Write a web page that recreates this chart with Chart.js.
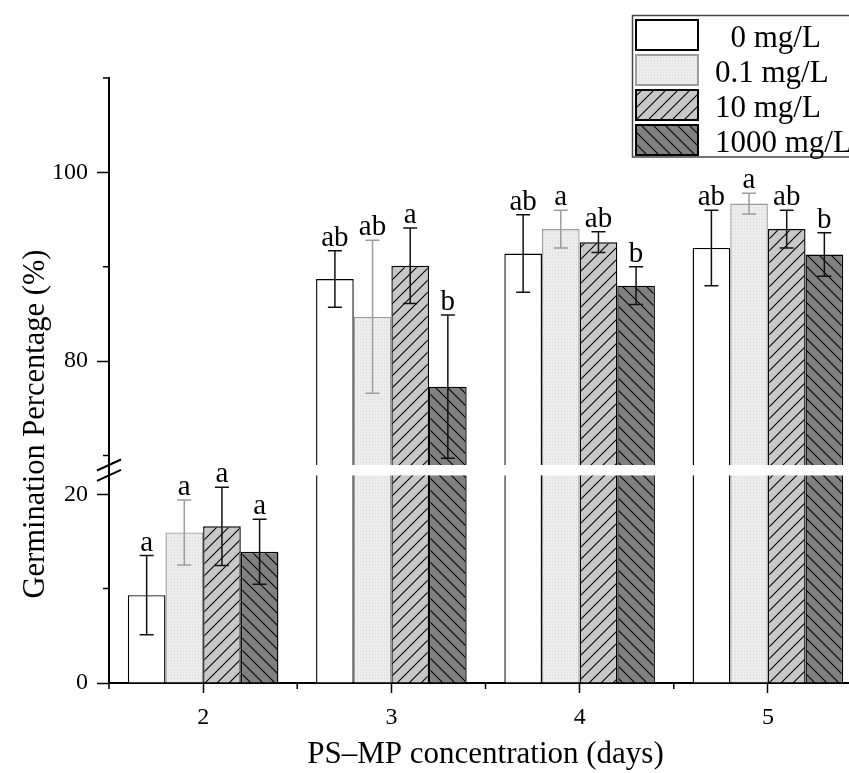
<!DOCTYPE html>
<html lang="en">
<head>
<meta charset="UTF-8">
<title>Germination Percentage</title>
<script src="https://cdn.jsdelivr.net/npm/chart.js@4"></script>
<style>
    html, body { margin: 0; padding: 0; background: #fff; overflow: hidden; }
    #wrap { width: 862px; height: 773px; }
    canvas { display: block; }
</style>
</head>
<body>
<div id="wrap"><canvas id="germChart" width="862" height="773"></canvas></div>
<script>
    const days = ['2', '3', '4', '5'];
    const doseLabels = ['0 mg/L', '0.1 mg/L', '10 mg/L', '1000 mg/L'];

    // mean germination (%) per day for each PS-MP dose
    const germ0 = [9.3, 88.7, 91.4, 92.0];
    const germ01 = [15.95, 84.7, 94.0, 96.7];
    const germ10 = [16.6, 90.1, 92.6, 94.0];
    const germ1000 = [13.9, 77.3, 88.0, 91.3];

    // standard deviations
    const sd0 = [4.2, 3.0, 4.1, 4.0];
    const sd01 = [3.45, 8.1, 2.0, 1.1];
    const sd10 = [4.15, 4.0, 1.1, 2.0];
    const sd1000 = [3.45, 7.6, 2.0, 2.3];

    // significance letters
    const sig0 = ['a', 'ab', 'ab', 'ab'];
    const sig01 = ['a', 'ab', 'a', 'a'];
    const sig10 = ['a', 'a', 'ab', 'ab'];
    const sig1000 = ['a', 'b', 'b', 'b'];

    // broken y axis: two segments
    const lowRange = [0, 22];
    const highRange = [69, 110];
    const lowTicks = [0, 20];
    const lowMinor = [10];
    const highTicks = [80, 100];
    const highMinor = [70, 90, 110];

    const means = [germ0, germ01, germ10, germ1000];
    const sds = [sd0, sd01, sd10, sd1000];
    const sigs = [sig0, sig01, sig10, sig1000];

    const serif = "'Liberation Serif', 'Times New Roman', serif";
    Chart.defaults.font.family = serif;
    Chart.defaults.color = '#000';

    function hatch(bg, dir) {
        const s = 12;
        const c = document.createElement('canvas');
        c.width = s; c.height = s;
        const g = c.getContext('2d');
        g.fillStyle = bg;
        g.fillRect(0, 0, s, s);
        g.strokeStyle = '#000';
        g.lineWidth = 1.1;
        g.beginPath();
        if (dir === '/') {
            g.moveTo(0, s); g.lineTo(s, 0);
            g.moveTo(-s, s); g.lineTo(s, -s);
            g.moveTo(0, 2 * s); g.lineTo(2 * s, 0);
        } else {
            g.moveTo(0, 0); g.lineTo(s, s);
            g.moveTo(-s, 0); g.lineTo(s, 2 * s);
            g.moveTo(0, -s); g.lineTo(2 * s, s);
        }
        g.stroke();
        return g.createPattern(c, 'repeat');
    }

    function dotted(bg, dot) {
        const c = document.createElement('canvas');
        c.width = 3; c.height = 3;
        const g = c.getContext('2d');
        g.fillStyle = bg;
        g.fillRect(0, 0, 3, 3);
        g.fillStyle = dot;
        g.fillRect(0, 0, 1, 1);
        return g.createPattern(c, 'repeat');
    }

    const ctx0 = document.getElementById('germChart').getContext('2d');
    const fills = ['#ffffff', dotted('#ececec', '#dadada'), hatch('#c8c8c8', '/'), hatch('#808080', '\\')];
    const edges = ['#000', '#9c9c9c', '#000', '#000'];

    function barSet(i, axisId) {
        return {
            label: doseLabels[i],
            data: means[i],
            yAxisID: axisId,
            stack: 'dose' + i,
            backgroundColor: fills[i],
            borderColor: edges[i],
            borderWidth: 1.4,
            borderSkipped: 'start',
            categoryPercentage: 0.8,
            barPercentage: 1
        };
    }

    // keep each dataset inside its own axis segment
    const segmentClip = {
        id: 'segmentClip',
        beforeDatasetDraw(chart, args) {
            const ys = chart.scales[args.meta.yAxisID];
            const ctx = chart.ctx;
            ctx.save();
            ctx.beginPath();
            ctx.rect(chart.chartArea.left, ys.top, chart.chartArea.width, ys.bottom - ys.top);
            ctx.clip();
        },
        afterDatasetDraw(chart) {
            chart.ctx.restore();
        }
    };

    // error bars plus letters
    const errorBars = {
        id: 'errorBars',
        afterDatasetsDraw(chart) {
            const ctx = chart.ctx;
            const high = chart.scales.yHigh;
            const low = chart.scales.yLow;
            ctx.save();
            for (let i = 0; i < doseLabels.length; i++) {
                const meta = chart.getDatasetMeta(i);
                meta.data.forEach((bar, j) => {
                    const m = means[i][j];
                    const e = sds[i][j];
                    const sc = m >= high.min ? high : low;
                    const yTop = sc.getPixelForValue(m + e);
                    const yBot = sc.getPixelForValue(m - e);
                    ctx.strokeStyle = edges[i] === '#000' ? '#111' : '#9c9c9c';
                    ctx.lineWidth = 1.5;
                    ctx.beginPath();
                    ctx.moveTo(bar.x, yTop); ctx.lineTo(bar.x, yBot);
                    ctx.moveTo(bar.x - 7, yTop); ctx.lineTo(bar.x + 7, yTop);
                    ctx.moveTo(bar.x - 7, yBot); ctx.lineTo(bar.x + 7, yBot);
                    ctx.stroke();
                    ctx.fillStyle = '#000';
                    ctx.font = '29px ' + serif;
                    ctx.textAlign = 'center';
                    ctx.textBaseline = 'alphabetic';
                    ctx.fillText(sigs[i][j], bar.x, yTop - 5);
                });
            }
            ctx.restore();
        }
    };

    // minor ticks, axis break, y title and the legend box
    const decorations = {
        id: 'decorations',
        afterDraw(chart) {
            const ctx = chart.ctx;
            const area = chart.chartArea;
            const x = chart.scales.x;
            const high = chart.scales.yHigh;
            const low = chart.scales.yLow;
            ctx.save();
            ctx.strokeStyle = '#000';
            ctx.lineWidth = 1.5;
            ctx.beginPath();
            const step = x.getPixelForValue(1) - x.getPixelForValue(0);
            for (let j = 0; j <= days.length; j++) {
                const xb = x.getPixelForValue(0) + (j - 0.5) * step;
                ctx.moveTo(xb, area.bottom); ctx.lineTo(xb, area.bottom + 6);
            }
            highMinor.forEach(v => {
                const py = high.getPixelForValue(v);
                ctx.moveTo(area.left - 6, py); ctx.lineTo(area.left, py);
            });
            lowMinor.forEach(v => {
                const py = low.getPixelForValue(v);
                ctx.moveTo(area.left - 6, py); ctx.lineTo(area.left, py);
            });
            ctx.stroke();

            // break marks
            ctx.lineWidth = 2;
            ctx.beginPath();
            [high.bottom, low.top].forEach(yb => {
                ctx.moveTo(area.left - 12, yb + 5.5);
                ctx.lineTo(area.left + 12, yb - 5.5);
            });
            ctx.stroke();

            // y axis title
            ctx.save();
            ctx.translate(43.5, 424);
            ctx.rotate(-Math.PI / 2);
            ctx.font = '30.5px ' + serif;
            ctx.fillStyle = '#000';
            ctx.textAlign = 'center';
            ctx.textBaseline = 'alphabetic';
            ctx.fillText('Germination Percentage (%)', 0, 0);
            ctx.restore();

            // legend
            ctx.strokeStyle = '#444';
            ctx.lineWidth = 1.5;
            ctx.strokeRect(632.5, 15.5, 300, 141.5);
            ctx.font = '31px ' + serif;
            ctx.textAlign = 'left';
            ctx.textBaseline = 'alphabetic';
            doseLabels.forEach((label, i) => {
                const top = 20 + i * 35;
                ctx.fillStyle = fills[i];
                ctx.fillRect(636, top, 62, 30);
                ctx.strokeStyle = edges[i];
                ctx.lineWidth = 2;
                ctx.strokeRect(636, top, 62, 30);
                ctx.fillStyle = '#000';
                // pad so the unit column lines up like a fixed-width label
                ctx.fillText(label.padStart(7, '\u2007'), 715, top + 26.5);
            });
            ctx.restore();
        }
    };

    const yBase = {
        type: 'linear',
        axis: 'y',
        position: 'left',
        stack: 'germ',
        grid: { display: true, drawOnChartArea: false, drawTicks: true, tickLength: 12, tickColor: '#000', tickWidth: 1.5 },
        border: { display: true, color: '#000', width: 2 },
        ticks: { color: '#000', font: { family: serif, size: 24 }, padding: 9 },
        afterFit: s => { s.width = 109; }
    };

    new Chart(ctx0, {
        type: 'bar',
        data: {
            labels: days,
            datasets: [0, 1, 2, 3].map(i => barSet(i, 'yHigh'))
                .concat([0, 1, 2, 3].map(i => barSet(i, 'yLow')))
        },
        options: {
            responsive: false,
            animation: false,
            layout: { padding: { top: 78, left: 0, right: 0, bottom: 0 } },
            plugins: {
                legend: { display: false },
                tooltip: { enabled: false }
            },
            scales: {
                x: {
                    type: 'category',
                    position: 'bottom',
                    offset: true,
                    z: 1,
                    grid: { offset: false, drawOnChartArea: false, drawTicks: true, tickLength: 10, tickColor: '#000', tickWidth: 1.5 },
                    border: { display: true, color: '#000', width: 2 },
                    ticks: { color: '#000', font: { family: serif, size: 24 }, padding: 10 },
                    title: {
                        display: true,
                        text: 'PS–MP concentration (days)',
                        color: '#000',
                        font: { family: serif, size: 31 },
                        padding: { top: 0, bottom: 0 }
                    },
                    afterFit: s => { s.height = 90; }
                },
                yLow: Object.assign({}, yBase, {
                    min: lowRange[0], max: lowRange[1],
                    stackWeight: lowRange[1] - lowRange[0],
                    weight: 0,
                    afterBuildTicks: s => { s.ticks = lowTicks.map(v => ({ value: v })); }
                }),
                yGap: Object.assign({}, yBase, {
                    min: 0, max: 1,
                    stackWeight: 1.1,
                    weight: 1,
                    grid: { display: false },
                    ticks: { display: false }
                }),
                yHigh: Object.assign({}, yBase, {
                    min: highRange[0], max: highRange[1],
                    stackWeight: highRange[1] - highRange[0],
                    weight: 2,
                    afterBuildTicks: s => { s.ticks = highTicks.map(v => ({ value: v })); }
                })
            }
        },
        plugins: [segmentClip, errorBars, decorations]
    });
</script>
</body>
</html>
